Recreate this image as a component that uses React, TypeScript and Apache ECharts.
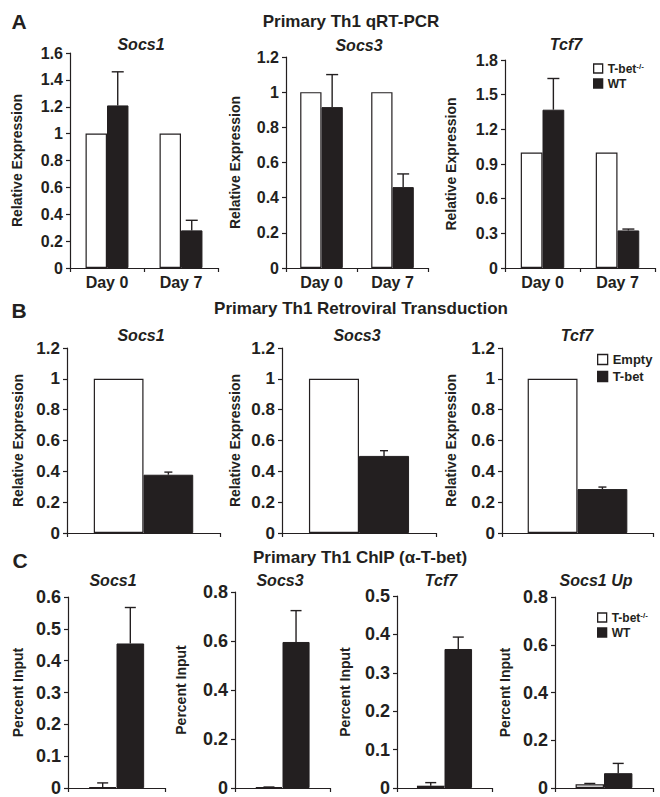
import React, { useEffect, useRef } from 'react';
import * as echarts from 'echarts';

const INK = '#231f20';
const FONT = '"Liberation Sans", Arial, Helvetica, sans-serif';

// ---------- categories ----------
const dayCategories = ['Day 0', 'Day 7'];
const singleCategory = [''];

// ---------- Panel A: Primary Th1 qRT-PCR (Relative Expression) ----------
const aSocs1Knockout = [1.0, 1.0];
const aSocs1WildType = [1.21, 0.28];
const aSocs1WildTypeErr = [0.25, 0.075];

const aSocs3Knockout = [1.0, 1.0];
const aSocs3WildType = [0.915, 0.46];
const aSocs3WildTypeErr = [0.185, 0.075];

const aTcf7Knockout = [1.0, 1.0];
const aTcf7WildType = [1.37, 0.325];
const aTcf7WildTypeErr = [0.27, 0.012];

// ---------- Panel B: Primary Th1 Retroviral Transduction ----------
const bSocs1Empty = [1.0];
const bSocs1Tbet = [0.378];
const bSocs1TbetErr = [0.017];

const bSocs3Empty = [1.0];
const bSocs3Tbet = [0.5];
const bSocs3TbetErr = [0.034];

const bTcf7Empty = [1.0];
const bTcf7Tbet = [0.285];
const bTcf7TbetErr = [0.013];

// ---------- Panel C: Primary Th1 ChIP (α-T-bet) (Percent Input) ----------
const cSocs1Knockout = [0.002];
const cSocs1KnockoutErr = [0.014];
const cSocs1WildType = [0.454];
const cSocs1WildTypeErr = [0.113];

const cSocs3Knockout = [0.003];
const cSocs3KnockoutErr = [0.001];
const cSocs3WildType = [0.596];
const cSocs3WildTypeErr = [0.128];

const cTcf7Knockout = [0.006];
const cTcf7KnockoutErr = [0.008];
const cTcf7WildType = [0.362];
const cTcf7WildTypeErr = [0.031];

const cSocs1UpKnockout = [0.016];
const cSocs1UpKnockoutErr = [0.003];
const cSocs1UpWildType = [0.062];
const cSocs1UpWildTypeErr = [0.041];

// ---------- axis scales ----------
const aSocs1Axis = { max: 1.6, interval: 0.2 };
const aSocs3Axis = { max: 1.2, interval: 0.2 };
const aTcf7Axis = { max: 1.8, interval: 0.3 };
const bAxis = { max: 1.2, interval: 0.2 };
const cSocs1Axis = { max: 0.6, interval: 0.1 };
const cSocs3Axis = { max: 0.8, interval: 0.2 };
const cTcf7Axis = { max: 0.5, interval: 0.1 };
const cSocs1UpAxis = { max: 0.8, interval: 0.2 };

// ---------- series names ----------
const koName = 'T-bet-/-';
const wtName = 'WT';
const emptyName = 'Empty';
const tbetName = 'T-bet';

type Spec = {
  gene: string;
  cats: string[];
  axis: { max: number; interval: number };
  names: [string, string];
  first: number[];
  firstErr?: number[];
  second: number[];
  secondErr?: number[];
  // layout
  left: number; top: number; width: number; height: number;
  frac: number; cap: number; tickFont: number; yName: string; nameGap: number;
  titleX: number; titleY: number;
};

const specs: Spec[] = [
  { gene: 'Socs1', cats: dayCategories, axis: aSocs1Axis, names: [koName, wtName], first: aSocs1Knockout, second: aSocs1WildType, secondErr: aSocs1WildTypeErr,
    left: 70, top: 53, width: 148, height: 215, frac: 0.29, cap: 12, tickFont: 16, yName: 'Relative Expression', nameGap: 46, titleX: 141, titleY: 44 },
  { gene: 'Socs3', cats: dayCategories, axis: aSocs3Axis, names: [koName, wtName], first: aSocs3Knockout, second: aSocs3WildType, secondErr: aSocs3WildTypeErr,
    left: 286, top: 57, width: 142, height: 211, frac: 0.3, cap: 12, tickFont: 16, yName: 'Relative Expression', nameGap: 44, titleX: 359, titleY: 45 },
  { gene: 'Tcf7', cats: dayCategories, axis: aTcf7Axis, names: [koName, wtName], first: aTcf7Knockout, second: aTcf7WildType, secondErr: aTcf7WildTypeErr,
    left: 505, top: 60, width: 150, height: 208, frac: 0.29, cap: 12, tickFont: 16, yName: 'Relative Expression', nameGap: 47, titleX: 566, titleY: 44 },

  { gene: 'Socs1', cats: singleCategory, axis: bAxis, names: [emptyName, tbetName], first: bSocs1Empty, second: bSocs1Tbet, secondErr: bSocs1TbetErr,
    left: 67, top: 348, width: 153, height: 185, frac: 0.325, cap: 8, tickFont: 17, yName: 'Relative Expression', nameGap: 42, titleX: 141, titleY: 335 },
  { gene: 'Socs3', cats: singleCategory, axis: bAxis, names: [emptyName, tbetName], first: bSocs3Empty, second: bSocs3Tbet, secondErr: bSocs3TbetErr,
    left: 282, top: 348, width: 154, height: 185, frac: 0.325, cap: 8, tickFont: 17, yName: 'Relative Expression', nameGap: 40, titleX: 357, titleY: 335 },
  { gene: 'Tcf7', cats: singleCategory, axis: bAxis, names: [emptyName, tbetName], first: bTcf7Empty, second: bTcf7Tbet, secondErr: bTcf7TbetErr,
    left: 502, top: 348, width: 151, height: 185, frac: 0.33, cap: 8, tickFont: 17, yName: 'Relative Expression', nameGap: 44, titleX: 577, titleY: 335 },

  { gene: 'Socs1', cats: singleCategory, axis: cSocs1Axis, names: [koName, wtName], first: cSocs1Knockout, firstErr: cSocs1KnockoutErr, second: cSocs1WildType, secondErr: cSocs1WildTypeErr,
    left: 68, top: 597, width: 97, height: 194, frac: 0.285, cap: 11, tickFont: 18, yName: 'Percent Input', nameGap: 43, titleX: 113, titleY: 580 },
  { gene: 'Socs3', cats: singleCategory, axis: cSocs3Axis, names: [koName, wtName], first: cSocs3Knockout, firstErr: cSocs3KnockoutErr, second: cSocs3WildType, secondErr: cSocs3WildTypeErr,
    left: 235, top: 592, width: 95, height: 197, frac: 0.285, cap: 11, tickFont: 18, yName: 'Percent Input', nameGap: 47, titleX: 280, titleY: 580 },
  { gene: 'Tcf7', cats: singleCategory, axis: cTcf7Axis, names: [koName, wtName], first: cTcf7Knockout, firstErr: cTcf7KnockoutErr, second: cTcf7WildType, secondErr: cTcf7WildTypeErr,
    left: 397, top: 596, width: 95, height: 194, frac: 0.29, cap: 11, tickFont: 18, yName: 'Percent Input', nameGap: 45, titleX: 441, titleY: 580 },
  { gene: 'Socs1 Up', cats: singleCategory, axis: cSocs1UpAxis, names: [koName, wtName], first: cSocs1UpKnockout, firstErr: cSocs1UpKnockoutErr, second: cSocs1UpWildType, secondErr: cSocs1UpWildTypeErr,
    left: 555, top: 597, width: 98, height: 193, frac: 0.29, cap: 11, tickFont: 18, yName: 'Percent Input', nameGap: 43, titleX: 596, titleY: 580 },
];

function errorBars(gridIdx: number, vals: number[], errs: number[], side: number, frac: number, cap: number) {
  return {
    type: 'custom',
    xAxisIndex: gridIdx,
    yAxisIndex: gridIdx,
    z: 5,
    silent: true,
    data: vals.map((v, i) => [i, v, v + errs[i]]),
    renderItem: (params: any, api: any) => {
      const cat = api.value(0);
      const p0 = api.coord([cat, api.value(1)]);
      const p1 = api.coord([cat, api.value(2)]);
      const band = api.size([1, 0])[0];
      const x = p0[0] + (side * band * frac) / 2;
      const st = { stroke: INK, lineWidth: 1.4, fill: null };
      return {
        type: 'group',
        children: [
          { type: 'line', shape: { x1: x, y1: p0[1], x2: x, y2: p1[1] }, style: st },
          { type: 'line', shape: { x1: x - cap / 2, y1: p1[1], x2: x + cap / 2, y2: p1[1] }, style: st },
        ],
      };
    },
  };
}

function buildOption() {
  const grid = specs.map((s) => ({ left: s.left, top: s.top, width: s.width, height: s.height }));
  const xAxis = specs.map((s, i) => ({
    type: 'category',
    gridIndex: i,
    data: s.cats,
    axisLine: { show: true, lineStyle: { color: INK, width: 1.2 } },
    axisTick: { show: true, length: 4, lineStyle: { color: INK, width: 1.2 } },
    axisLabel: { show: s.cats.length > 1, color: INK, fontSize: 16, fontWeight: 'bold', fontFamily: FONT, margin: 6 },
    splitLine: { show: false },
  }));
  const yAxis = specs.map((s, i) => ({
    type: 'value',
    gridIndex: i,
    min: 0,
    max: s.axis.max,
    interval: s.axis.interval,
    name: s.yName,
    nameLocation: 'middle',
    nameRotate: 90,
    nameGap: s.nameGap,
    nameTextStyle: { color: INK, fontSize: 14, fontWeight: 'bold', fontFamily: FONT },
    axisLine: { show: true, lineStyle: { color: INK, width: 1.2 } },
    axisTick: { show: true, length: 4, lineStyle: { color: INK, width: 1.2 } },
    axisLabel: { color: INK, fontSize: s.tickFont, fontWeight: 'bold', fontFamily: FONT, margin: 7 },
    splitLine: { show: false },
  }));

  const series: any[] = [];
  specs.forEach((s, i) => {
    const barWidth = `${Math.round(s.frac * 1000) / 10}%`;
    series.push({
      type: 'bar', name: s.names[0], xAxisIndex: i, yAxisIndex: i, data: s.first,
      barWidth, barGap: '0%',
      itemStyle: { color: '#ffffff', borderColor: INK, borderWidth: 1.2 },
    });
    series.push({
      type: 'bar', name: s.names[1], xAxisIndex: i, yAxisIndex: i, data: s.second,
      barWidth, barGap: '0%',
      itemStyle: { color: INK, borderColor: INK, borderWidth: 1 },
    });
    if (s.firstErr) series.push(errorBars(i, s.first, s.firstErr, -1, s.frac, s.cap));
    if (s.secondErr) series.push(errorBars(i, s.second, s.secondErr, 1, s.frac, s.cap));
  });

  const legendText = {
    color: INK,
    fontFamily: FONT,
    rich: {
      b: { fontSize: 12, fontWeight: 'bold', color: INK, fontFamily: FONT, lineHeight: 13 },
      s: { fontSize: 8, fontWeight: 'bold', color: INK, fontFamily: FONT, verticalAlign: 'top', lineHeight: 13, padding: [0, 0, 4, 0] },
      bb: { fontSize: 13, fontWeight: 'bold', color: INK, fontFamily: FONT, lineHeight: 14 },
    },
  };
  const legendCommon = {
    orient: 'vertical',
    icon: 'rect',
    itemWidth: 9,
    itemHeight: 9,
    itemGap: 3,
    padding: 0,
    selectedMode: false,
    itemStyle: { borderColor: INK, borderWidth: 1.3 },
    textStyle: legendText,
  };
  const legend = [
    { ...legendCommon, data: [koName, wtName], left: 593, top: 62,
      formatter: (n: string) => (n === koName ? '{b|T-bet}{s|-/-}' : `{b|${n}}`) },
    { ...legendCommon, itemWidth: 10, itemHeight: 10, itemGap: 4, data: [emptyName, tbetName], left: 597, top: 353,
      formatter: (n: string) => `{bb|${n}}` },
    { ...legendCommon, data: [koName, wtName], left: 597, top: 611,
      formatter: (n: string) => (n === koName ? '{b|T-bet}{s|-/-}' : `{b|${n}}`) },
  ];

  const text = (t: string, x: number, y: number, font: string) => ({
    type: 'text',
    x, y,
    silent: true,
    style: { text: t, x: 0, y: 0, align: 'center', verticalAlign: 'middle', font, fill: INK },
  });

  const graphic: any[] = [
    text('A', 19, 21, `bold 21px ${FONT}`),
    text('B', 19, 310, `bold 21px ${FONT}`),
    text('C', 20, 560, `bold 21px ${FONT}`),
    text('Primary Th1 qRT-PCR', 351, 21, `bold 17px ${FONT}`),
    text('Primary Th1 Retroviral Transduction', 361, 308, `bold 17px ${FONT}`),
    text('Primary Th1 ChIP (α-T-bet)', 360, 557, `bold 17px ${FONT}`),
    ...specs.map((s) => text(s.gene, s.titleX, s.titleY, `italic bold 16px ${FONT}`)),
  ];

  return {
    animation: false,
    backgroundColor: '#ffffff',
    textStyle: { fontFamily: FONT },
    grid,
    xAxis,
    yAxis,
    legend,
    series,
    graphic,
  };
}

export default function App() {
  const ref = useRef<HTMLDivElement>(null);
  useEffect(() => {
    if (!ref.current) return;
    const chart = echarts.init(ref.current, undefined, { renderer: 'svg' });
    chart.setOption(buildOption() as any);
    return () => chart.dispose();
  }, []);
  return (
    <div
      ref={ref}
      style={{ position: 'absolute', left: 0, top: 0, width: 660, height: 797, background: '#fff' }}
    />
  );
}
